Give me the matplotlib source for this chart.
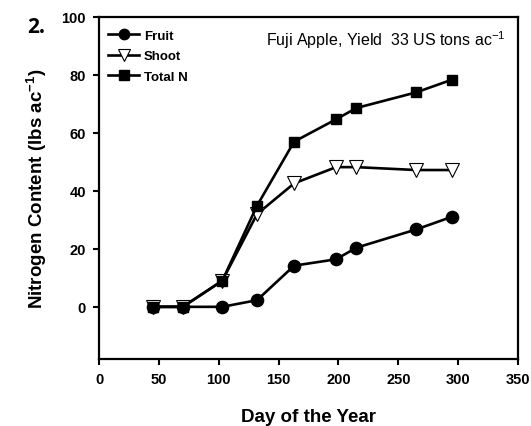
import matplotlib
matplotlib.use("Agg")
import matplotlib.pyplot as plt

days = [45, 70, 103, 132, 163, 198, 215, 265, 295]
fruit = [0, 0, 0, 2.3, 14.2, 16.4, 20.4, 26.7, 31.1]
shoot = [0, 0, 9, 32, 42.6, 48.2, 48.2, 47.2, 47.2]
total = [0, 0, 9, 34.9, 57.0, 64.7, 68.6, 74.0, 78.4]

xticks = [0, 50, 100, 150, 200, 250, 300, 350]
yticks = [0, 20, 40, 60, 80, 100]

plt.rcParams['font.family'] = ['Liberation Sans', 'DejaVu Sans']
plt.rcParams['mathtext.fontset'] = 'custom'
plt.rcParams['mathtext.rm'] = 'Liberation Sans'
plt.rcParams['mathtext.bf'] = 'Liberation Sans:bold'

fig = plt.figure(figsize=(5.31, 4.27), dpi=100)
ax = fig.add_axes([99/531, 1-360/427, (518-99)/531, (360-18)/427])

lw = 1.9
ax.plot(days, fruit, '-', color='black', lw=lw, marker='o', ms=8.8,
        mfc='black', mec='black', label='Fruit', zorder=3)
ax.plot(days, shoot, '-', color='black', lw=lw, marker='v', ms=9.5,
        mfc='white', mec='black', mew=0.8, label='Shoot', zorder=4)
ax.plot(days, total, '-', color='black', lw=lw, marker='s', ms=7.8,
        mfc='black', mec='black', label='Total N', zorder=5)

ax.set_xlim(0, 350)
ax.set_ylim(-18, 100)
ax.set_xticks(xticks)
ax.set_yticks(yticks)
for lab in ax.get_xticklabels() + ax.get_yticklabels():
    lab.set_fontweight('bold')
ax.tick_params(axis='both', direction='out', length=4.5, width=1.5,
               labelsize=10.5, pad=5)
for s in ax.spines.values():
    s.set_linewidth(1.6)

ax.set_xlabel('Day of the Year', fontsize=13.5, fontweight='bold', labelpad=16)
ax.set_ylabel(r'Nitrogen Content (lbs ac$^{\mathbf{-1}}$)', fontsize=13.5,
              fontweight='bold', labelpad=9)

leg = ax.legend(loc='upper left', frameon=False,
                prop={'weight': 'bold', 'size': 9.5}, handlelength=2.4,
                handletextpad=0.35, labelspacing=0.62, markerscale=0.85,
                borderaxespad=0, borderpad=0,
                bbox_to_anchor=(0.021, 0.963))

ax.text(505/531, 1-46/427, r'Fuji Apple, Yield  33 US tons ac$^{-1}$',
        transform=fig.transFigure, ha='right', va='baseline', fontsize=11.5)

fig.text(27/531, 1-33/427, '2.', fontsize=15, fontweight='bold',
         ha='left', va='baseline', family=['Open Sans', 'DejaVu Sans'])

fig.savefig('out.png', dpi=100)
